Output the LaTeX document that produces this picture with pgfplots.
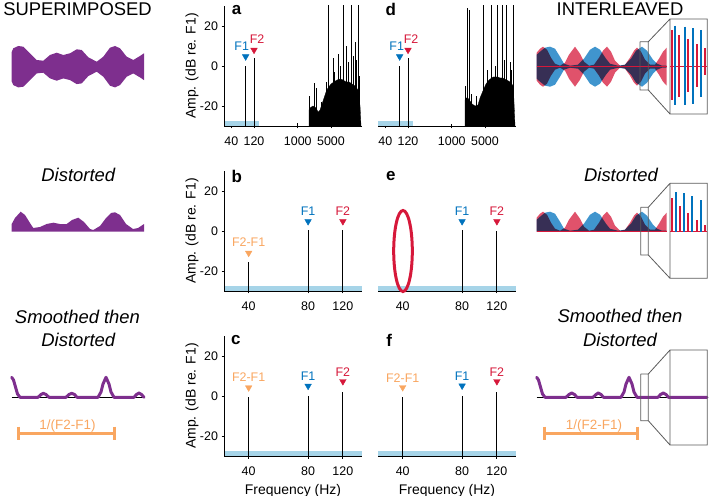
\documentclass[border=0pt]{standalone}
\usepackage{pgfplots}
\pgfplotsset{compat=1.18}
\usepackage{fontspec}
\setmainfont{Liberation Sans}
\definecolor{fblue}{RGB}{0,114,189}
\definecolor{fred}{RGB}{214,24,58}
\definecolor{forange}{RGB}{249,166,96}
\definecolor{fpurple}{RGB}{126,47,142}
\definecolor{fband}{RGB}{166,212,232}
\definecolor{boxgray}{RGB}{90,90,90}

\pgfplotsset{
  specax/.style={
    scale only axis, width=138bp, height=120bp,
    ymin=-30, ymax=30,
    axis x line*=bottom, axis y line*=left,
    axis line style={line width=0.9bp},
    every tick/.style={black, line width=0.8bp},
    tick align=outside, major tick length=2.5bp,
    xminorticks=false,
    ytick={-20,0,20}, yticklabels={-20,0,20},
    tick label style={font=\fontsize{12.5}{14}\selectfont},
    xticklabel style={yshift=-4.5bp},
    ylabel={Amp. (dB re. F1)},
    ylabel style={font=\fontsize{14}{16}\selectfont, at={(axis description cs:-0.232,0.5)}, anchor=center},
    unbounded coords=jump, clip=true, axis on top,
  },
  lowax/.style={xmin=30, xmax=150, xtick={40,80,120}, xticklabels={40,80,120}},
  fullax/.style={xmin=28, xmax=22500, xtick={40,120,1000,5000}, xticklabels={40,120,1000,5000}},
  noyax/.style={axis y line=none, ylabel={}},
  freqax/.style={xlabel={Frequency (Hz)}, xlabel style={font=\fontsize{14}{16}\selectfont, at={(axis description cs:0.5,-0.29)}, anchor=center}},
}
\tikzset{
  stk/.style={black, line width=0.8bp},
  bnd/.style={fill=fband, draw=none},
  pk/.style={mark=triangle*, mark size=3.8bp, mark options={rotate=180}},
  plb/.style={font=\fontsize{12.5}{14}\selectfont, inner sep=0pt},
  lett/.style={font=\fontsize{17}{18}\selectfont\bfseries},
  ttl/.style={font=\fontsize{18.5}{20}\selectfont, anchor=base},
  wav/.style={fill opacity=0.75, draw=none, blend mode=multiply},
}

\begin{document}
\begin{tikzpicture}
\useasboundingbox (0,0) rectangle (709bp,496bp);

%% a: superimposed, full spectrum
\begin{axis}[xmode=log, specax, fullax, at={(224bp,370bp)}, anchor=south west]
\addplot[bnd] coordinates {(28,-30) (150,-30) (150,-27.6) (28,-27.6)};
\addplot[fill=black, draw=black, line width=0.3bp] coordinates {
 (1725,-30) (1725,-22) (1811,-21) (2094,-20) (2422,-21) (2668,-23) (2940,-22)
 (3237,-19) (3567,-16) (3931,-13) (4330,-11) (5012,-9) (5790,-8) (6700,-7)
 (7750,-6.5) (8960,-7) (10360,-8) (12000,-8) (13870,-9) (16040,-10) (18540,-12)
 (20440,-20) (21440,-30)};
\addplot[stk] coordinates {
 (1000,-30) (1000,-28.5) (1000,nan) (1725,-30) (1725,-15) (1725,nan)
 (1946,-30) (1946,-22) (1946,nan) (2198,-30) (2198,-8.7) (2198,nan)
 (2422,-30) (2422,-11) (2422,nan) (3086,-30) (3086,-18) (3086,nan)
 (4000,-30) (4000,-8) (4000,nan) (4400,-30) (4400,40) (4400,nan)
 (5600,-30) (5600,4) (5600,nan) (6000,-30) (6000,-3) (6000,nan)
 (7130,-30) (7130,6) (7130,nan) (8000,-30) (8000,0) (8000,nan)
 (9100,-30) (9100,40) (9100,nan) (10720,-30) (10720,10) (10720,nan)
 (11500,-30) (11500,2) (11500,nan) (13660,-30) (13660,40) (13660,nan)
 (15000,-30) (15000,5) (15000,nan) (16040,-30) (16040,12) (16040,nan)
 (17500,-30) (17500,3) (17500,nan) (18800,-30) (18800,40) (18800,nan)
 (20000,-30) (20000,-5)};
\addplot[stk] coordinates {(80,-30) (80,0) (80,nan) (120,-30) (120,4)};
\addplot[pk, fblue, only marks] coordinates {(80,4.7)};
\addplot[pk, fred, only marks] coordinates {(120,8)};
\node[plb, text=fblue, xshift=-4bp] at (axis cs:80,10) {F1};
\node[plb, text=fred, xshift=3bp] at (axis cs:120,13.3) {F2};
\end{axis}

%% b: superimposed, distorted
\begin{axis}[xmode=log, specax, lowax, at={(224bp,205bp)}, anchor=south west]
\addplot[bnd] coordinates {(30,-30) (150,-30) (150,-27.6) (30,-27.6)};
\addplot[stk] coordinates {(40,-30) (40,-15.5) (40,nan) (80,-30) (80,0.3) (80,nan) (120,-30) (120,0.3)};
\addplot[pk, forange, only marks] coordinates {(40,-11)};
\addplot[pk, fblue, only marks] coordinates {(80,4.8)};
\addplot[pk, fred, only marks] coordinates {(120,4.8)};
\node[plb, text=forange] at (axis cs:40,-5.6) {F2-F1};
\node[plb, text=fblue] at (axis cs:80,9.8) {F1};
\node[plb, text=fred] at (axis cs:120,9.8) {F2};
\end{axis}

%% c: superimposed, smoothed then distorted
\begin{axis}[xmode=log, specax, lowax, freqax, at={(224bp,40bp)}, anchor=south west]
\addplot[bnd] coordinates {(30,-30) (150,-30) (150,-27.6) (30,-27.6)};
\addplot[stk] coordinates {(40,-30) (40,-0.7) (40,nan) (80,-30) (80,0) (80,nan) (120,-30) (120,2.2)};
\addplot[pk, forange, only marks] coordinates {(40,4.2)};
\addplot[pk, fblue, only marks] coordinates {(80,5)};
\addplot[pk, fred, only marks] coordinates {(120,7.3)};
\node[plb, text=forange] at (axis cs:40,9.2) {F2-F1};
\node[plb, text=fblue] at (axis cs:80,9.7) {F1};
\node[plb, text=fred] at (axis cs:120,11.8) {F2};
\end{axis}

%% d: interleaved, full spectrum
\begin{axis}[xmode=log, specax, fullax, noyax, at={(378bp,370bp)}, anchor=south west]
\addplot[bnd] coordinates {(28,-30) (150,-30) (150,-27.6) (28,-27.6)};
\addplot[fill=black, draw=black, line width=0.3bp] coordinates {
 (1900,-30) (1900,-17) (1993,-16) (2165,-16) (2340,-17) (2668,-19) (3086,-20)
 (3567,-19.5) (3931,-16) (4615,-12) (5260,-9) (6080,-7) (6935,-6) (7490,-5.5)
 (9270,-5.5) (10360,-6) (11820,-6) (14340,-7) (16830,-8) (19750,-10) (21440,-30)};
\addplot[stk] coordinates {
 (1000,-30) (1000,-29) (1000,nan) (1950,-30) (1950,-10) (1950,nan)
 (2165,-30) (2165,29) (2165,nan) (2340,-30) (2340,28) (2340,nan)
 (2600,-30) (2600,-14) (2600,nan) (3300,-30) (3300,-15) (3300,nan)
 (4615,-30) (4615,40) (4615,nan) (5500,-30) (5500,-2) (5500,nan)
 (6935,-30) (6935,40) (6935,nan) (8200,-30) (8200,0) (8200,nan)
 (9270,-30) (9270,40) (9270,nan) (11820,-30) (11820,40) (11820,nan)
 (12800,-30) (12800,3) (12800,nan) (14340,-30) (14340,40) (14340,nan)
 (16800,-30) (16800,2) (16800,nan) (18000,-30) (18000,-2) (18000,nan)
 (19750,-30) (19750,40)};
\addplot[stk] coordinates {(80,-30) (80,0) (80,nan) (120,-30) (120,4)};
\addplot[pk, fblue, only marks] coordinates {(80,4.7)};
\addplot[pk, fred, only marks] coordinates {(120,8)};
\node[plb, text=fblue, xshift=-3bp] at (axis cs:80,10) {F1};
\node[plb, text=fred, xshift=3bp] at (axis cs:120,13.3) {F2};
\end{axis}

%% e: interleaved, distorted
\begin{axis}[xmode=log, specax, lowax, noyax, at={(378bp,205bp)}, anchor=south west]
\addplot[bnd] coordinates {(30,-30) (150,-30) (150,-27.6) (30,-27.6)};
\addplot[stk] coordinates {(80,-30) (80,0.5) (80,nan) (120,-30) (120,0)};
\addplot[pk, fblue, only marks] coordinates {(80,4.8)};
\addplot[pk, fred, only marks] coordinates {(120,4.8)};
\node[plb, text=fblue] at (axis cs:80,9.8) {F1};
\node[plb, text=fred] at (axis cs:120,9.8) {F2};
\end{axis}

%% f: interleaved, smoothed then distorted
\begin{axis}[xmode=log, specax, lowax, noyax, freqax, at={(378bp,40bp)}, anchor=south west]
\addplot[bnd] coordinates {(30,-30) (150,-30) (150,-27.6) (30,-27.6)};
\addplot[stk] coordinates {(40,-30) (40,-0.5) (40,nan) (80,-30) (80,0) (80,nan) (120,-30) (120,2.2)};
\addplot[pk, forange, only marks] coordinates {(40,4.3)};
\addplot[pk, fblue, only marks] coordinates {(80,5.1)};
\addplot[pk, fred, only marks] coordinates {(120,7.3)};
\node[plb, text=forange] at (axis cs:40,9.1) {F2-F1};
\node[plb, text=fblue] at (axis cs:80,9.7) {F1};
\node[plb, text=fred] at (axis cs:120,12) {F2};
\end{axis}

%% overlay in pixel units: waveforms, titles, insets
\begin{axis}[at={(0bp,0bp)}, anchor=south west, scale only axis,
  width=709bp, height=496bp, xmin=0, xmax=709, ymin=0, ymax=496,
  y dir=reverse, hide axis, clip=false, unbounded coords=jump]

% titles
\node[ttl] at (77.5,15.7) {SUPERIMPOSED};
\node[ttl] at (620,15.7) {INTERLEAVED};
\node[ttl, font=\fontsize{18.5}{20}\selectfont\itshape] at (78.3,181.7) {Distorted};
\node[ttl, font=\fontsize{18.5}{20}\selectfont\itshape] at (621,181.7) {Distorted};
\node[ttl, font=\fontsize{18.5}{20}\selectfont\itshape] at (77.5,323.3) {Smoothed then};
\node[ttl, font=\fontsize{18.5}{20}\selectfont\itshape] at (78.3,346.7) {Distorted};
\node[ttl, font=\fontsize{18.5}{20}\selectfont\itshape] at (620,322) {Smoothed then};
\node[ttl, font=\fontsize{18.5}{20}\selectfont\itshape] at (620,346.7) {Distorted};

% panel letters
\node[lett] at (236.7,10) {a};
\node[lett] at (236.7,176) {b};
\node[lett] at (235.8,340.5) {c};
\node[lett] at (390.8,9.2) {d};
\node[lett] at (390.8,176) {e};
\node[lett] at (389.2,340) {f};

% missing 40 Hz component in e
\draw[fred, line width=3bp] (403,251) ellipse [x radius=9.3bp, y radius=40.5bp];

% superimposed waveform
\addplot[fill=fpurple, draw=none] coordinates {
 (11.7,52) (13.3,48.3) (18.3,46) (23.3,46.7) (30,53.3) (36.7,60) (43.3,60.7)
 (50,55) (56.7,52.7) (63.3,55) (70,53.3) (76.7,49.3) (81.7,50) (88.3,57.3)
 (96.7,61.7) (103.3,56.7) (110,47.7) (115,46) (120,48.3) (126.7,56.7) (133.3,60)
 (140,56) (144,53.3)
 (144,80.1) (140,77.4) (133.3,73.4) (126.7,76.7) (120,85.1) (115,87.4) (110,85.7)
 (103.3,76.7) (96.7,71.7) (88.3,76.1) (81.7,83.4) (76.7,84.1) (70,80.1) (63.3,78.4)
 (56.7,80.7) (50,78.4) (43.3,72.7) (36.7,73.4) (30,80.1) (23.3,86.7) (18.3,87.4)
 (13.3,85.1) (11.7,81.4)};

% superimposed, distorted
\addplot[fill=fpurple, draw=none] coordinates {
 (11.7,231.7) (11.7,224) (15,218) (20.7,211.7) (25,215) (30,223) (33.3,228)
 (40,227) (46.7,224) (53.3,222.7) (60,224) (66.7,224) (72,220) (78.3,217.7)
 (84,222) (90,229) (93.3,230) (100,226) (106,218) (111,213) (115,212.3)
 (120,215) (126,224) (133,229) (138,228) (144,224) (144,231.7)};

% superimposed, smoothed then distorted
\addplot[black, line width=0.6bp] coordinates {(11.7,397.3) (144,397.3)};
\addplot[fpurple, line width=3bp, line join=round, line cap=round] coordinates {
 (11.7,377.3) (13.5,380) (15.5,387) (17.5,394) (20,397.3) (38,397.3) (41,394.5)
 (43.3,393.3) (46,394.5) (49,397.3) (66,397.3) (69,394.5) (71.7,393.3) (74.5,394.5)
 (77,397.3) (98,397.3) (101,392) (103,384) (106,377.3) (109,384) (111,392)
 (114,397.3) (134,397.3) (136.5,394.5) (139,393) (141.5,394.5) (144,397.3)};
\addplot[forange, line width=3bp] coordinates {(18.3,433.3) (114,433.3)};
\addplot[forange, line width=3bp] coordinates {(18.3,426.7) (18.3,440) (18.3,nan) (114,426.7) (114,440)};
\node[font=\fontsize{13.5}{14}\selectfont, text=forange, anchor=base] at (67.5,429.3) {1/(F2-F1)};

% interleaved waveform
\addplot[fill=fblue, wav] coordinates {
 (536.7,54.7) (540,51.7) (545,47.7) (550,46.7) (555,48.7) (560,56.7) (564,63.7)
 (570,65.7) (578,64.7) (584,58.7) (590,49.7) (595,46.7) (600,49.7) (606,58.7)
 (610,63.7) (618,65.7) (625,64.7) (631,58.7) (636,50.7) (642,46.7) (647,50.7)
 (653,59.7) (657,63.7) (662,65.7) (666.7,65.7)
 (666.7,67.7) (662,67.7) (657,69.7) (653,73.7) (647,82.7) (642,86.7) (636,82.7)
 (631,74.7) (625,68.7) (618,67.7) (610,69.7) (606,74.7) (600,83.7) (595,86.7)
 (590,83.7) (584,74.7) (578,68.7) (570,67.7) (564,69.7) (560,76.7) (555,84.7)
 (550,86.7) (545,85.7) (540,81.7) (536.7,78.7)};
\addplot[fill=fred, wav] coordinates {
 (536.7,52.7) (540,48.7) (543,46.7) (547,49.7) (551,57.7) (555,63.7) (560,65.7)
 (565,62.7) (569,54.7) (575,46.7) (580,53.7) (584,61.7) (589,65.7) (594,64.7)
 (599,57.7) (603,50.7) (607,46.7) (611,51.7) (615,60.7) (620,65.7) (625,64.7)
 (630,57.7) (634,50.7) (637,47.7) (641,51.7) (645,59.7) (650,64.7) (655,64.7)
 (659,58.7) (663,51.7) (666.7,47.7)
 (666.7,85.7) (663,81.7) (659,74.7) (655,68.7) (650,68.7) (645,73.7) (641,81.7)
 (637,85.7) (634,82.7) (630,75.7) (625,68.7) (620,67.7) (615,72.7) (611,81.7)
 (607,86.7) (603,82.7) (599,75.7) (594,68.7) (589,67.7) (584,71.7) (580,79.7)
 (575,86.7) (569,78.7) (565,70.7) (560,67.7) (555,69.7) (551,75.7) (547,83.7)
 (543,86.7) (540,84.7) (536.7,80.7)};
\addplot[fred, line width=0.7bp] coordinates {(536.7,66.7) (666.7,66.7)};
% zoom inset
\addplot[boxgray, line width=0.8bp] coordinates {
 (640,41.7) (648.3,41.7) (648.3,90) (640,90) (640,41.7) (640,nan)
 (648.3,41.7) (670,19) (670,nan) (648.3,90) (670,114) (670,nan)
 (670,19) (707.3,19) (707.3,114) (670,114) (670,19)};
\addplot[fred, line width=0.8bp] coordinates {(670,66.7) (707.3,66.7)};
\addplot[fred, line width=2.2bp] coordinates {
 (671.7,30) (671.7,100) (671.7,nan) (679.3,35) (679.3,96.7) (679.3,nan)
 (688.3,39) (688.3,91.7) (688.3,nan) (697,44.3) (697,86.7) (697,nan)
 (705,48.3) (705,75)};
\addplot[fblue, line width=2.2bp] coordinates {
 (675.3,25.7) (675.3,105) (675.3,nan) (684.7,26.7) (684.7,105) (684.7,nan)
 (692.7,28.3) (692.7,104.3) (692.7,nan) (701.3,30) (701.3,96.7)};

% interleaved, distorted
\addplot[fill=fblue, wav] coordinates {
 (536.7,231.7) (536.7,219.7) (540,216.7) (545,212.7) (550,211.7) (555,213.7)
 (560,221.7) (564,228.7) (570,230.7) (578,229.7) (584,223.7) (590,214.7)
 (595,211.7) (600,214.7) (606,223.7) (610,228.7) (618,230.7) (625,229.7)
 (631,223.7) (636,215.7) (642,211.7) (647,215.7) (653,224.7) (657,228.7)
 (662,230.7) (666.7,230.7) (666.7,231.7)};
\addplot[fill=fred, wav] coordinates {
 (536.7,231.7) (536.7,217.7) (540,213.7) (543,211.7) (547,214.7) (551,222.7)
 (555,228.7) (560,230.7) (565,227.7) (569,219.7) (575,211.7) (580,218.7)
 (584,226.7) (589,230.7) (594,229.7) (599,222.7) (603,215.7) (607,211.7)
 (611,216.7) (615,225.7) (620,230.7) (625,229.7) (630,222.7) (634,215.7)
 (637,212.7) (641,216.7) (645,224.7) (650,229.7) (655,229.7) (659,223.7)
 (663,216.7) (666.7,212.7) (666.7,231.7)};
\addplot[fred, line width=0.7bp] coordinates {(536.7,231.7) (666.7,231.7)};
\addplot[boxgray, line width=0.8bp] coordinates {
 (640.7,207.3) (648.3,207.3) (648.3,255) (640.7,255) (640.7,207.3) (640.7,nan)
 (648.3,207.3) (670,183.3) (670,nan) (648.3,255) (670,278.3) (670,nan)
 (670,183.3) (707.3,183.3) (707.3,278.3) (670,278.3) (670,183.3)};
\addplot[fred, line width=0.8bp] coordinates {(670,231.7) (707.3,231.7)};
\addplot[fred, line width=2.2bp] coordinates {
 (671.7,231.7) (671.7,198.3) (671.7,nan) (680,231.7) (680,206) (680,nan)
 (688.3,231.7) (688.3,213.3) (688.3,nan) (696.7,231.7) (696.7,220) (696.7,nan)
 (705,231.7) (705,225)};
\addplot[fblue, line width=2.2bp] coordinates {
 (675.7,231.7) (675.7,191.7) (675.7,nan) (684,231.7) (684,193.3) (684,nan)
 (692.3,231.7) (692.3,195.7) (692.3,nan) (701,231.7) (701,200)};

% interleaved, smoothed then distorted
\addplot[black, line width=0.6bp] coordinates {(536.7,397.3) (666.7,397.3)};
\addplot[fpurple, line width=3bp, line join=round, line cap=round] coordinates {
 (536.7,377.3) (538.5,380) (540.5,387) (542.5,394) (545,397.3) (566,397.3)
 (569,394.5) (571.7,393) (574.5,394.5) (577,397.3) (593,397.3) (596,394.5)
 (598.3,393) (601,394.5) (603.5,397.3) (621,397.3) (624,392) (626,384)
 (629,377.3) (632,384) (634,392) (637,397.3) (658,397.3) (660.5,394.5)
 (663.3,393) (666,394.5) (668.5,397.3) (707,397.3)};
\addplot[boxgray, line width=0.8bp] coordinates {
 (640.7,374) (648.3,374) (648.3,420.7) (640.7,420.7) (640.7,374) (640.7,nan)
 (648.3,374) (670,350) (670,nan) (648.3,420.7) (670,445) (670,nan)
 (670,350) (707.3,350) (707.3,445) (670,445) (670,350)};
\addplot[forange, line width=3bp] coordinates {(544,433.3) (637.3,433.3)};
\addplot[forange, line width=3bp] coordinates {(544,426.7) (544,440) (544,nan) (637.3,426.7) (637.3,440)};
\node[font=\fontsize{13.5}{14}\selectfont, text=forange, anchor=base] at (594,429.3) {1/(F2-F1)};
\end{axis}
\end{tikzpicture}
\end{document}
